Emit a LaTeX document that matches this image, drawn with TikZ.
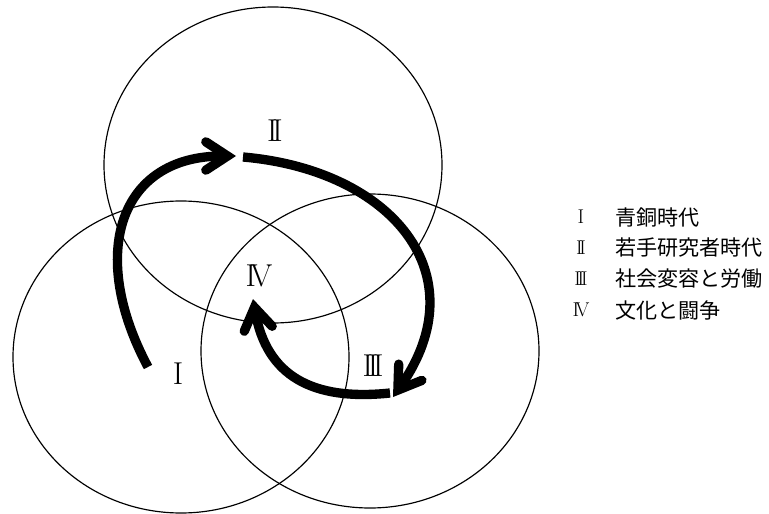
\documentclass[tikz,border=0pt]{standalone}
\usepackage{fontspec}
\usepackage{tikz}
\usetikzlibrary{arrows.meta,positioning}
\newfontfamily\jpfont{Noto Sans CJK JP}

\begin{document}
\begin{tikzpicture}[x=0.03cm, y=-0.03cm,
  ring/.style={line width=1pt},
  flow/.style={line width=2.8mm, -{Straight Barb[length=6.5mm,width=8.5mm,line cap=round,line join=miter]}},
  era/.style={font=\fontsize{27}{27}\selectfont, inner sep=0pt},
  legnum/.style={font=\fontsize{17}{17}\selectfont, inner sep=0pt},
  legtext/.style={font=\jpfont\fontsize{18}{18}\selectfont, anchor=west, inner sep=0pt}]
\useasboundingbox (0,0) rectangle (769,514);

% three rings
\draw[ring] (181,357) ellipse [x radius=168, y radius=156];
\draw[ring] (273,165) ellipse [x radius=169, y radius=158];
\draw[ring] (370,351) ellipse [x radius=169, y radius=157];

% era labels
\node[era] (e1) at (178,374) {I};
\node[era] (e2) at (275,131) {I\kern-.16em I};
\node[era] (e3) at (373,366) {I\kern-.16em I\kern-.16em I};
\node[era] (e4) at (259,276) {I\kern-.18em V};

% cycle arrows
\coordinate (a1) at (148,367);
\coordinate (a2) at (236,156);
\coordinate (b1) at (243,157);
\coordinate (b2) at (393,397);
\coordinate (c1) at (390,393);
\coordinate (c2) at (253,299);
\draw[flow] (a1) .. controls (88,255) and (118,156) .. (a2);
\draw[flow] (b1) to[out=-5, in=55, looseness=1.35] (b2);
\draw[flow] (c1) to[out=186, in=-80, looseness=1.2] (c2);

% legend
\node[legtext] (l1) at (615,217) {青銅時代};
\node[legtext, below=9.3mm of l1.west, anchor=west] (l2) {若手研究者時代};
\node[legtext, below=9.3mm of l2.west, anchor=west] (l3) {社会変容と労働};
\node[legtext, below=9.3mm of l3.west, anchor=west] (l4) {文化と闘争};

\node[legnum] (n1) at (581,217) {I};
\node[legnum] (n2) at (n1 |- l2) {I\kern-.16em I};
\node[legnum] (n3) at (n1 |- l3) {I\kern-.16em I\kern-.16em I};
\node[legnum] (n4) at (n1 |- l4) {I\kern-.18em V};
\end{tikzpicture}
\end{document}
